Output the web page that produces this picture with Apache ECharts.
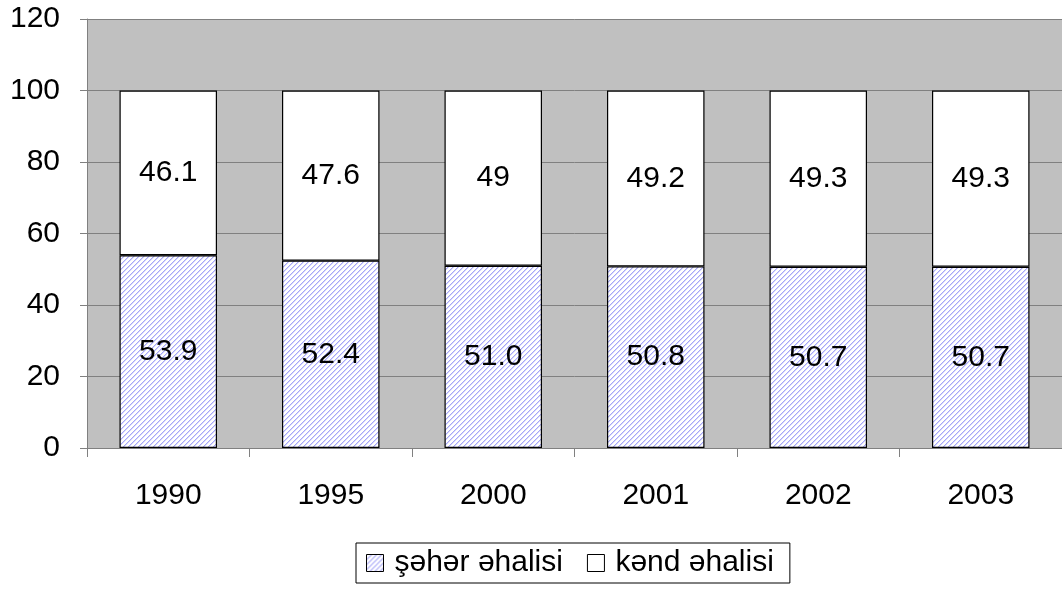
<!DOCTYPE html>
<html><head><meta charset="utf-8">
<script src="https://cdn.jsdelivr.net/npm/echarts@6/dist/echarts.min.js"></script>
<style>html,body{margin:0;padding:0;background:#fff;}#c{width:1062px;height:596px;}</style>
</head><body><div id="c"></div>
<script>
const categories = ['1990','1995','2000','2001','2002','2003'];
const urban = [53.9, 52.4, 51.0, 50.8, 50.7, 50.7];
const rural = [46.1, 47.6, 49, 49.2, 49.3, 49.3];
const seriesNames = ['şəhər əhalisi', 'kənd əhalisi'];

function hatch() {
  const n = 5;
  const c = document.createElement('canvas');
  c.width = n; c.height = n;
  const g = c.getContext('2d');
  g.fillStyle = '#ffffff'; g.fillRect(0, 0, n, n);
  for (let y = 0; y < n; y++) {
    g.fillStyle = '#a6a6f8';
    g.fillRect((n - 1 - y) % n, y, 1, 1);
    g.fillStyle = '#d6d6fc';
    g.fillRect((n - y) % n, y, 1, 1);
  }
  return c;
}
const pattern = {image: hatch(), repeat: 'repeat'};
const font = 'Liberation Sans, Arial, sans-serif';
const fs = 30;

const chart = echarts.init(document.getElementById('c'));
chart.setOption({
  animation: false,
  backgroundColor: '#ffffff',
  textStyle: {fontFamily: font},
  grid: {left: 87, right: 0, top: 19, bottom: 148, show: true, backgroundColor: '#c0c0c0', borderWidth: 0},
  legend: {
    top: 543, left: 356,
    data: seriesNames,
    itemWidth: 17, itemHeight: 17, itemGap: 24,
    borderColor: '#000', borderWidth: 1, padding: [5, 16, 5, 10],
    textStyle: {fontSize: fs, color: '#000', fontFamily: font, padding: [0, 0, 0, 6]},
    icon: 'rect',
    itemStyle: {borderWidth: 1, borderColor: '#000'}
  },
  xAxis: {
    type: 'category', data: categories,
    axisLine: {lineStyle: {color: '#808080', width: 1}},
    axisTick: {show: true, length: 9, lineStyle: {color: '#808080'}},
    axisLabel: {fontSize: fs, color: '#000', margin: 33, fontFamily: font},
    splitLine: {show: false}
  },
  yAxis: {
    type: 'value', min: 0, max: 120, interval: 20,
    axisLine: {show: true, lineStyle: {color: '#808080', width: 1}},
    axisTick: {show: true, length: 7, lineStyle: {color: '#808080'}},
    axisLabel: {fontSize: fs, color: '#000', margin: 27, fontFamily: font},
    splitLine: {show: true, lineStyle: {color: '#808080', width: 1}}
  },
  series: [
    {
      name: seriesNames[0], type: 'bar', stack: 's', data: urban, barWidth: '60%',
      itemStyle: {color: pattern, borderColor: '#000', borderWidth: 1.2},
      label: {show: true, position: 'inside', fontSize: fs, color: '#000', fontFamily: font,
        formatter: p => p.value.toFixed(1)}
    },
    {
      name: seriesNames[1], type: 'bar', stack: 's', data: rural, barWidth: '60%',
      itemStyle: {color: '#ffffff', borderColor: '#000', borderWidth: 1.2},
      label: {show: true, position: 'inside', fontSize: fs, color: '#000', fontFamily: font,
        formatter: p => String(p.value)}
    }
  ]
});
</script></body></html>
